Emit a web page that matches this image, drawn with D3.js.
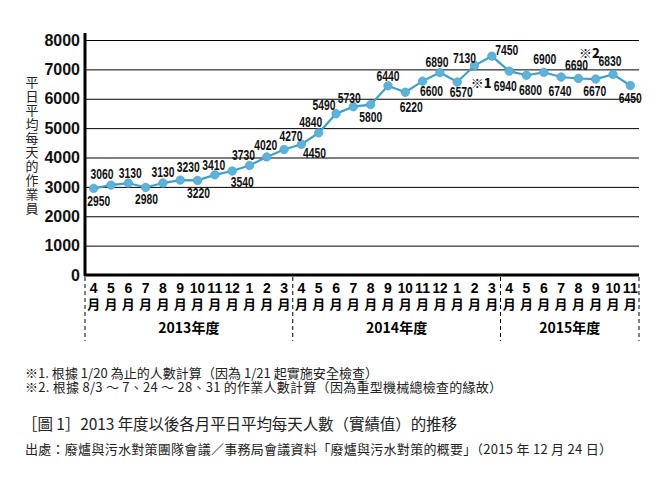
<!DOCTYPE html>
<html>
<head>
<meta charset="utf-8">
<script src="https://cdn.jsdelivr.net/npm/d3@7"></script>
<style>
  body { margin: 0; background: #fff; }
  svg { display: block; }
  .num { font-family: "Liberation Sans", Arial, sans-serif; font-weight: bold; }
  .note { font-family: "Noto Sans CJK TC", sans-serif; fill: #222; }
</style>
</head>
<body>
<div id="chart"></div>
<script>
// chart values
const fiscalYears = ["2013年度", "2014年度", "2015年度"];
const monthsPerYear = [12, 12, 8];
const monthLabels = ["4","5","6","7","8","9","10","11","12","1","2","3",
                     "4","5","6","7","8","9","10","11","12","1","2","3",
                     "4","5","6","7","8","9","10","11"];
const workers = [2950, 3060, 3130, 2980, 3130, 3230, 3220, 3410, 3540, 3730, 4020, 4270,
                 4450, 4840, 5490, 5730, 5800, 6440, 6220, 6600, 6890, 6570, 7130, 7450,
                 6940, 6800, 6900, 6740, 6690, 6670, 6830, 6450];
const yTicks = [0, 1000, 2000, 3000, 4000, 5000, 6000, 7000, 8000];
const yTitle = "平日平均每天的作業員";
const marks = [{i: 21, text: "※1"}, {i: 28, text: "※2"}];
const notes = [
  "※1. 根據 1/20 為止的人數計算（因為 1/21 起實施安全檢查）",
  "※2. 根據 8/3 ～ 7、24 ～ 28、31 的作業人數計算（因為重型機械總檢查的緣故）"
];
const caption = "［圖 1］2013 年度以後各月平日平均每天人數（實績值）的推移";
const source = "出處：廢爐與污水對策團隊會議／事務局會議資料「廢爐與污水對策的概要」（2015 年 12 月 24 日）";

// where each value label sits relative to its dot
const labelOffset = [[5,13],[-9,-11],[2,-10],[1,12],[0,-11],[8,-13],[1,13],[-1,-10],[10,11],[-6,-10],[-1,-12],[7,-14],
                     [13,9],[-8,-11],[-12,-9],[-4,-9],[0,12],[0,-10],[6,15],[9,10],[-3,-11],[4,10],[-10,-8],[15,-6],
                     [-4,15],[4,15],[1,-13],[-1,14],[-2,-13],[-1,12],[-3,-13],[0,12]];
const markOffset = [[24, 0], [11, -26]];

const W = 670, H = 490;
const plotL = 85, plotR = 639, plotT = 40, plotB = 275;

const svg = d3.select("#chart").append("svg")
    .attr("width", W)
    .attr("height", H);

const x = d3.scaleBand()
    .domain(d3.range(workers.length))
    .range([plotL, plotR])
    .padding(0);

const y = d3.scaleLinear()
    .domain([0, 8000])
    .range([plotB, plotT]);

// gridlines + y labels
const yAxis = svg.append("g")
    .attr("transform", `translate(${plotL},0)`)
    .call(d3.axisLeft(y).tickValues(yTicks).tickFormat(d3.format("d"))
        .tickSize(-(plotR - plotL)).tickPadding(5));
yAxis.select(".domain").remove();
yAxis.selectAll(".tick line").attr("stroke", "#000").attr("stroke-width", 1);
yAxis.selectAll(".tick text")
    .attr("font-family", "Liberation Sans, Arial, sans-serif")
    .attr("font-weight", "bold")
    .attr("font-size", 16)
    .attr("fill", "#111");

// axes lines
svg.append("line").attr("x1", plotL).attr("x2", plotL).attr("y1", 33).attr("y2", plotB + 1)
    .attr("stroke", "#000").attr("stroke-width", 3);
svg.append("line").attr("x1", plotL - 1).attr("x2", plotR).attr("y1", plotB).attr("y2", plotB)
    .attr("stroke", "#000").attr("stroke-width", 3);

// y title, vertical
svg.append("text")
    .attr("class", "note")
    .attr("x", 32)
    .attr("y", 76)
    .style("writing-mode", "vertical-rl")
    .attr("font-size", 13)
    .attr("letter-spacing", 0.9)
    .text(yTitle);

// month labels
const mx = i => x(i) + x.bandwidth() / 2;
const months = svg.append("g");
months.selectAll("text.m")
    .data(monthLabels)
    .join("text")
    .attr("class", "m")
    .attr("x", (d, i) => mx(i))
    .attr("y", 288)
    .attr("text-anchor", "middle")
    .attr("dominant-baseline", "central")
    .attr("font-family", "Liberation Sans, Arial, sans-serif")
    .attr("font-weight", "bold")
    .attr("font-size", 14)
    .attr("textLength", d => d.length > 1 ? 15 : null)
    .attr("lengthAdjust", "spacingAndGlyphs")
    .text(d => d);
months.selectAll("text.y")
    .data(monthLabels)
    .join("text")
    .attr("class", "y")
    .attr("x", (d, i) => mx(i))
    .attr("y", 303)
    .attr("text-anchor", "middle")
    .attr("dominant-baseline", "central")
    .attr("font-family", "Noto Sans CJK TC, sans-serif")
    .attr("font-weight", "bold")
    .attr("font-size", 13)
    .text("月");

// fiscal year blocks
const starts = monthsPerYear.map((n, k) => d3.sum(monthsPerYear.slice(0, k)));
const edges = starts.concat([workers.length]);
const edgeX = d => d === workers.length ? plotR : x(d);
svg.append("g").selectAll("line")
    .data(edges)
    .join("line")
    .attr("x1", edgeX)
    .attr("x2", edgeX)
    .attr("y1", plotB + 2)
    .attr("y2", 341)
    .attr("stroke", "#000")
    .attr("stroke-width", 1)
    .attr("stroke-dasharray", "4,3");
svg.append("g").selectAll("text")
    .data(fiscalYears)
    .join("text")
    .attr("x", (d, k) => (edgeX(edges[k]) + edgeX(edges[k + 1])) / 2)
    .attr("y", 327)
    .attr("text-anchor", "middle")
    .attr("dominant-baseline", "central")
    .attr("font-family", "Noto Sans CJK TC, sans-serif")
    .attr("font-weight", "bold")
    .attr("font-size", 14)
    .text(d => d);

// line + dots
const line = d3.line()
    .x((d, i) => mx(i))
    .y(d => y(d));
svg.append("path")
    .datum(workers)
    .attr("d", line)
    .attr("fill", "none")
    .attr("stroke", "#3f9fc8")
    .attr("stroke-width", 2.2);
svg.append("g").selectAll("circle")
    .data(workers)
    .join("circle")
    .attr("cx", (d, i) => mx(i))
    .attr("cy", d => y(d))
    .attr("r", 4.2)
    .attr("fill", "#5bb3dc")
    .attr("stroke", "#4aa6d0")
    .attr("stroke-width", 0.8);

// value labels (squeezed like the original)
svg.append("g").selectAll("text")
    .data(workers)
    .join("text")
    .attr("class", "num")
    .attr("x", (d, i) => mx(i) + labelOffset[i][0])
    .attr("y", (d, i) => y(d) + labelOffset[i][1])
    .attr("text-anchor", "middle")
    .attr("dominant-baseline", "central")
    .attr("font-size", 14)
    .attr("textLength", 23)
    .attr("lengthAdjust", "spacingAndGlyphs")
    .attr("fill", "#111")
    .text(d => d);

// ※ marks
svg.append("g").selectAll("text")
    .data(marks)
    .join("text")
    .attr("x", (d, k) => mx(d.i) + markOffset[k][0])
    .attr("y", (d, k) => y(workers[d.i]) + markOffset[k][1])
    .attr("text-anchor", "middle")
    .attr("dominant-baseline", "central")
    .attr("font-family", "Noto Sans CJK TC, sans-serif")
    .attr("font-weight", 900)
    .attr("font-size", 13)
    .attr("fill", "#111")
    .text(d => d.text);

// notes below the chart
const noteLen = [353, 477];
svg.append("g").selectAll("text")
    .data(notes)
    .join("text")
    .attr("class", "note")
    .attr("x", 25)
    .attr("y", (d, i) => 372 + i * 14)
    .attr("dominant-baseline", "central")
    .attr("font-size", 13)
    .attr("textLength", (d, i) => noteLen[i])
    .text(d => d);

svg.append("text")
    .attr("class", "note")
    .attr("x", 22)
    .attr("y", 423)
    .attr("dominant-baseline", "central")
    .attr("font-size", 15.5)
    .attr("textLength", 435)
    .text(caption);

svg.append("text")
    .attr("class", "note")
    .attr("x", 25)
    .attr("y", 448)
    .attr("dominant-baseline", "central")
    .attr("font-size", 13)
    .attr("textLength", 587)
    .text(source);
</script>
</body>
</html>
